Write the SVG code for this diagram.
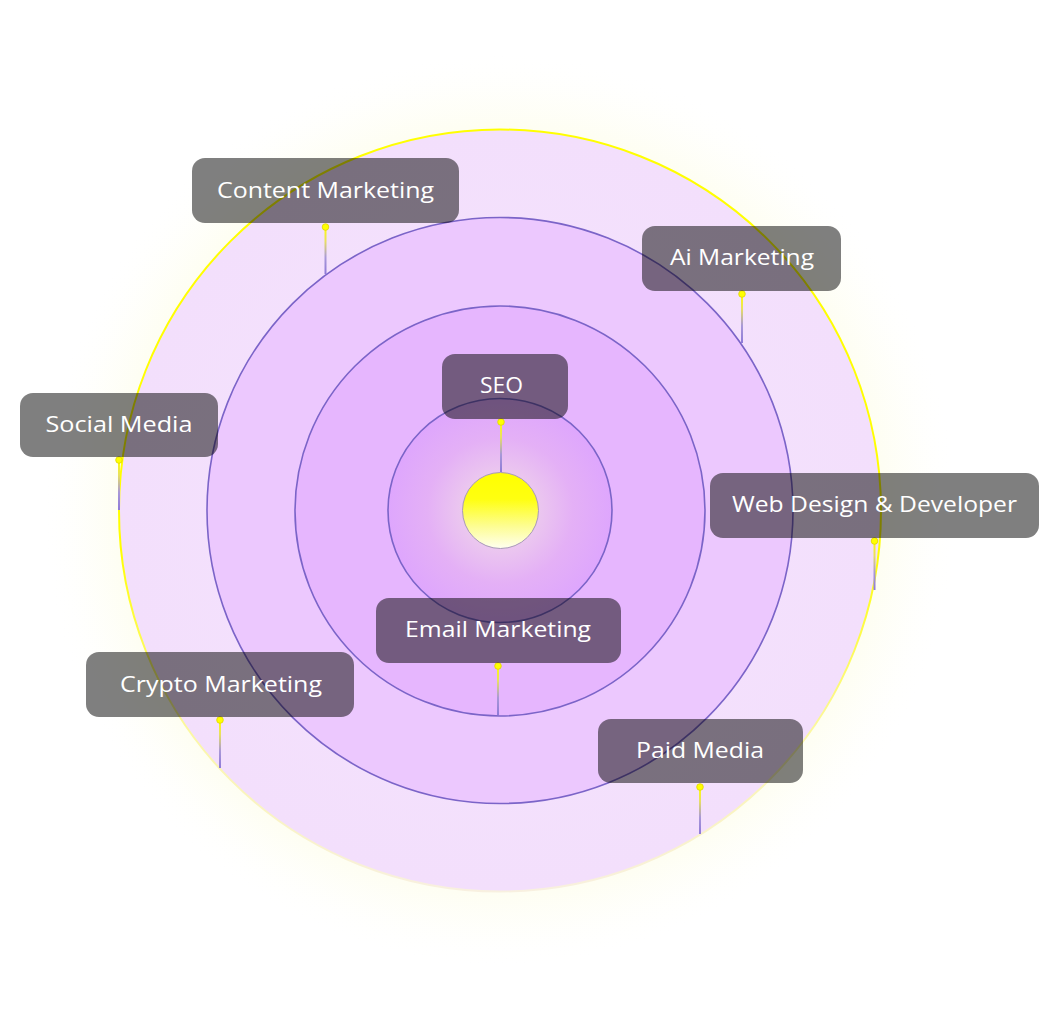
<svg xmlns="http://www.w3.org/2000/svg" width="1051" height="1009" viewBox="0 0 1051 1009">
  <defs>
    <radialGradient id="glow" cx="500" cy="510" r="460" gradientUnits="userSpaceOnUse">
      <stop offset="0.8" stop-color="#fdfde6" stop-opacity="0.7"/>
      <stop offset="0.9" stop-color="#fefef2" stop-opacity="0.4"/>
      <stop offset="1" stop-color="#ffffff" stop-opacity="0"/>
    </radialGradient>
    <linearGradient id="outerStroke" x1="0" y1="0" x2="0" y2="1">
      <stop offset="0" stop-color="#ffff00"/>
      <stop offset="0.55" stop-color="#ffff00"/>
      <stop offset="0.8" stop-color="#fbf7a8"/>
      <stop offset="1" stop-color="#f8f0e0"/>
    </linearGradient>
    <radialGradient id="outerFill" cx="0.5" cy="0.5" r="0.5">
      <stop offset="0" stop-color="#f5e4fd"/>
      <stop offset="1" stop-color="#f3dffc"/>
    </radialGradient>
    <radialGradient id="innerFill" cx="0.5" cy="0.5" r="0.5">
      <stop offset="0.3" stop-color="#eccaee"/>
      <stop offset="0.65" stop-color="#e4b0f6"/>
      <stop offset="1" stop-color="#dea6fd"/>
    </radialGradient>
    <linearGradient id="sunFill" x1="0" y1="0" x2="0" y2="1">
      <stop offset="0" stop-color="#ffff00"/>
      <stop offset="0.35" stop-color="#ffff10"/>
      <stop offset="0.7" stop-color="#fdfd90"/>
      <stop offset="1" stop-color="#fffff0"/>
    </linearGradient>
    <linearGradient id="conn" x1="0" y1="0" x2="0" y2="1">
      <stop offset="0" stop-color="#ffff00"/>
      <stop offset="0.3" stop-color="#e8e060"/>
      <stop offset="0.65" stop-color="#a898d8"/>
      <stop offset="1" stop-color="#8f7ad8"/>
    </linearGradient>
    <style>
      .ring { stroke: #7b64c8; stroke-width: 1.6; }
      .label rect.box { fill: #000000; fill-opacity: 0.5; }
      .label text { fill: #ffffff; font-family: "Open Sans", "Noto Sans", "Liberation Sans", sans-serif; font-size: 22px; font-weight: 500; text-anchor: middle; }
      .dot { fill: #ffff00; stroke: #e0d400; stroke-width: 0.8; }
    </style>
  </defs>

  <rect x="0" y="0" width="1051" height="1009" fill="#ffffff"/>

  <g id="rings">
    <circle cx="500" cy="510" r="460" fill="url(#glow)"/>
    <circle cx="500" cy="510.5" r="381" fill="url(#outerFill)" stroke="url(#outerStroke)" stroke-width="2"/>
    <circle class="ring" cx="500" cy="510.5" r="293" fill="#ecc8fe"/>
    <circle class="ring" cx="500" cy="511" r="205" fill="#e6b6fe"/>
    <circle class="ring" cx="500" cy="510.5" r="112" fill="url(#innerFill)"/>
  </g>

  <g id="sun">
    <circle cx="500.5" cy="510.5" r="38" fill="url(#sunFill)" stroke="#a99ab8" stroke-width="1"/>
  </g>

  <g id="connectors">
    <rect x="324.5" y="227" width="2" height="47" fill="url(#conn)"/>
    <circle class="dot" cx="325.5" cy="227" r="3.3"/>
    <rect x="741" y="294" width="2" height="49" fill="url(#conn)"/>
    <circle class="dot" cx="742" cy="294" r="3.3"/>
    <rect x="500" y="422" width="2" height="50" fill="url(#conn)"/>
    <circle class="dot" cx="501" cy="422" r="3.3"/>
    <rect x="118" y="460" width="2" height="50" fill="url(#conn)"/>
    <circle class="dot" cx="119" cy="460" r="3.3"/>
    <rect x="873.5" y="541" width="2" height="49" fill="url(#conn)"/>
    <circle class="dot" cx="874.5" cy="541" r="3.3"/>
    <rect x="497" y="666" width="2" height="49" fill="url(#conn)"/>
    <circle class="dot" cx="498" cy="666" r="3.3"/>
    <rect x="219" y="720" width="2" height="48" fill="url(#conn)"/>
    <circle class="dot" cx="220" cy="720" r="3.3"/>
    <rect x="699" y="787" width="2" height="47" fill="url(#conn)"/>
    <circle class="dot" cx="700" cy="787" r="3.3"/>
  </g>

  <g id="content-marketing" class="label">
    <rect class="box" x="192" y="158" width="267" height="65" rx="13"/>
    <text x="325.5" y="198" textLength="217" lengthAdjust="spacingAndGlyphs">Content Marketing</text>
  </g>
  <g id="ai-marketing" class="label">
    <rect class="box" x="642" y="226" width="199" height="65" rx="13"/>
    <text x="742" y="265" textLength="144" lengthAdjust="spacingAndGlyphs">Ai Marketing</text>
  </g>
  <g id="seo" class="label">
    <rect class="box" x="442" y="354" width="126" height="65" rx="13"/>
    <text x="501.5" y="393" textLength="43" lengthAdjust="spacingAndGlyphs">SEO</text>
  </g>
  <g id="social-media" class="label">
    <rect class="box" x="20" y="393" width="198" height="64" rx="13"/>
    <text x="119" y="432" textLength="147" lengthAdjust="spacingAndGlyphs">Social Media</text>
  </g>
  <g id="web-design" class="label">
    <rect class="box" x="710" y="473" width="329" height="65" rx="13"/>
    <text x="874.5" y="512" textLength="285" lengthAdjust="spacingAndGlyphs">Web Design &amp; Developer</text>
  </g>
  <g id="email-marketing" class="label">
    <rect class="box" x="376" y="598" width="245" height="65" rx="13"/>
    <text x="498" y="637" textLength="186" lengthAdjust="spacingAndGlyphs">Email Marketing</text>
  </g>
  <g id="crypto-marketing" class="label">
    <rect class="box" x="86" y="652" width="268" height="65" rx="13"/>
    <text x="221" y="692" textLength="202" lengthAdjust="spacingAndGlyphs">Crypto Marketing</text>
  </g>
  <g id="paid-media" class="label">
    <rect class="box" x="598" y="719" width="205" height="64" rx="13"/>
    <text x="700" y="758" textLength="128" lengthAdjust="spacingAndGlyphs">Paid Media</text>
  </g>
</svg>
